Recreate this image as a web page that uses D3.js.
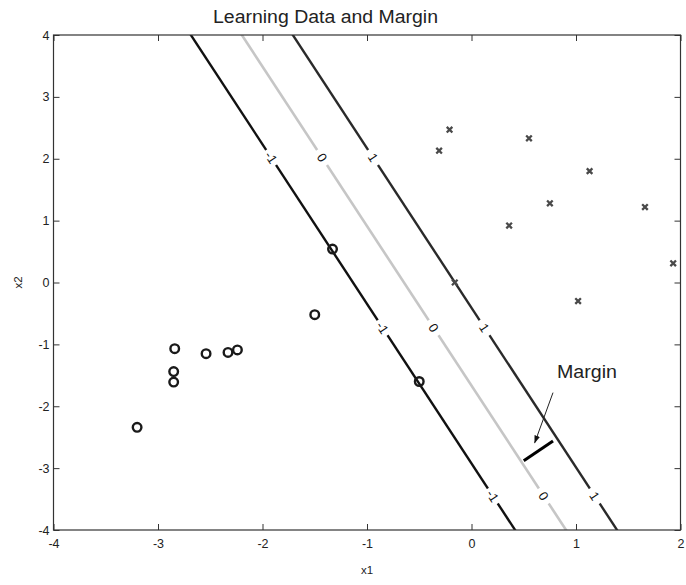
<!DOCTYPE html>
<html>
<head>
<meta charset="utf-8">
<script src="https://cdn.jsdelivr.net/npm/d3@7"></script>
<style>
  body { margin: 0; background: #fff; }
  text { font-family: "Liberation Sans", Arial, sans-serif; fill: #222; }
</style>
</head>
<body>
<svg id="chart" width="686" height="585"></svg>
<script>
// class -1 samples (circles)
const negX1 = [-3.20, -2.84, -2.85, -2.85, -2.54, -2.33, -2.24, -1.50, -1.33, -0.50];
const negX2 = [-2.34, -1.07, -1.44, -1.61, -1.15, -1.13, -1.09, -0.52, 0.54, -1.60];
// class +1 samples (crosses)
const posX1 = [-0.21, -0.31, 0.55, 1.13, 0.75, 0.36, 1.66, 1.93, -0.16, 1.02];
const posX2 = [2.47, 2.13, 2.33, 1.80, 1.28, 0.92, 1.22, 0.31, 0.00, -0.30];

// decision function f = w1*x1 + w2*x2 + b, contour levels
const weights = [2.05, 0.795];
const bias = 1.325;
const levels = [-1, 0, 1];
const levelColors = ["#111", "#c6c6c6", "#2a2a2a"];
const labelX2 = [2.02, -0.73, -3.45];

const xTicks = [-4, -3, -2, -1, 0, 1, 2];
const yTicks = [-4, -3, -2, -1, 0, 1, 2, 3, 4];

const marginSeg = [[0.50, -2.88], [0.78, -2.56]];
const marginArrow = [[0.78, -1.78], [0.605, -2.59]];
const marginText = [0.818, -1.54];

const mLeft = 53.5, mRight = 680.5, mTop = 35, mBottom = 530;
const svg = d3.select("#chart");

const x = d3.scaleLinear().domain([-4, 2]).range([mLeft, mRight]);
const y = d3.scaleLinear().domain([-4, 4]).range([mBottom, mTop]);

const defs = svg.append("defs");
defs.append("clipPath").attr("id", "plot")
    .append("rect").attr("x", mLeft).attr("y", mTop)
    .attr("width", mRight - mLeft).attr("height", mBottom - mTop);

defs.append("marker")
    .attr("id", "arrowhead").attr("viewBox", "0 0 10 10")
    .attr("refX", 9).attr("refY", 5)
    .attr("markerWidth", 8).attr("markerHeight", 8)
    .attr("markerUnits", "userSpaceOnUse")
    .attr("orient", "auto")
    .append("path").attr("d", "M0,1.5 L10,5 L0,8.5 Z").attr("fill", "#111");

// x1 on a contour for a given x2
function x1At(level, x2) {
    return (level - bias - weights[1] * x2) / weights[0];
}

const plot = svg.append("g").attr("clip-path", "url(#plot)");

const angle = Math.atan2(y(0) - y(1), x(x1At(0, 0)) - x(x1At(0, 1))) * 180 / Math.PI;

levels.forEach((lv, i) => {
    plot.append("line")
        .attr("x1", x(x1At(lv, 4.5))).attr("y1", y(4.5))
        .attr("x2", x(x1At(lv, -4.5))).attr("y2", y(-4.5))
        .attr("stroke", levelColors[i])
        .attr("stroke-width", i == 1 ? 2.6 : 2.4);

    labelX2.forEach((v) => {
        const g = plot.append("g")
            .attr("transform", `translate(${x(x1At(lv, v))},${y(v)}) rotate(${angle})`);
        g.append("rect").attr("x", -9).attr("y", -5).attr("width", 18).attr("height", 10).attr("fill", "#fff");
        g.append("text")
            .attr("text-anchor", "middle").attr("dy", "0.36em")
            .style("font-size", "13px").style("fill", "#111")
            .text(String(lv));
    });
});

// circles
plot.selectAll("circle.neg")
    .data(negX1.map((v, i) => [v, negX2[i]]))
    .join("circle")
    .attr("class", "neg")
    .attr("cx", (d) => x(d[0])).attr("cy", (d) => y(d[1]))
    .attr("r", 4.3)
    .attr("fill", "none").attr("stroke", "#1a1a1a").attr("stroke-width", 2.4);

// crosses
const s = 2.8;
plot.selectAll("path.pos")
    .data(posX1.map((v, i) => [v, posX2[i]]))
    .join("path")
    .attr("class", "pos")
    .attr("d", (d) => {
        const cx = x(d[0]), cy = y(d[1]);
        return `M${cx - s},${cy - s}L${cx + s},${cy + s}M${cx - s},${cy + s}L${cx + s},${cy - s}`;
    })
    .attr("stroke", "#4a4a4a").attr("stroke-width", 2.3);

// margin annotation
svg.append("line")
    .attr("x1", x(marginSeg[0][0])).attr("y1", y(marginSeg[0][1]))
    .attr("x2", x(marginSeg[1][0])).attr("y2", y(marginSeg[1][1]))
    .attr("stroke", "#000").attr("stroke-width", 3);

svg.append("line")
    .attr("x1", x(marginArrow[0][0])).attr("y1", y(marginArrow[0][1]))
    .attr("x2", x(marginArrow[1][0])).attr("y2", y(marginArrow[1][1]))
    .attr("stroke", "#222").attr("stroke-width", 1)
    .attr("marker-end", "url(#arrowhead)");

svg.append("text")
    .attr("x", x(marginText[0])).attr("y", y(marginText[1]))
    .attr("textLength", 60).attr("lengthAdjust", "spacingAndGlyphs")
    .style("font-size", "17.5px")
    .text("Margin");

// frame and ticks
const axisColor = "#333";
const fmt = (d) => String(d);
svg.append("g").attr("transform", `translate(0,${mBottom})`)
    .call(d3.axisBottom(x).tickValues(xTicks).tickFormat(fmt).tickSizeInner(-6).tickSizeOuter(0).tickPadding(9))
    .call((g) => g.select(".domain").remove());
svg.append("g").attr("transform", `translate(0,${mTop})`)
    .call(d3.axisTop(x).tickValues(xTicks).tickSizeInner(-6).tickSizeOuter(0).tickFormat(""))
    .call((g) => g.select(".domain").remove());
svg.append("g").attr("transform", `translate(${mLeft},0)`)
    .call(d3.axisLeft(y).tickValues(yTicks).tickFormat(fmt).tickSizeInner(-6).tickSizeOuter(0).tickPadding(4))
    .call((g) => g.select(".domain").remove());
svg.append("g").attr("transform", `translate(${mRight},0)`)
    .call(d3.axisRight(y).tickValues(yTicks).tickSizeInner(-6).tickSizeOuter(0).tickFormat(""))
    .call((g) => g.select(".domain").remove());

svg.selectAll(".tick line").attr("stroke", axisColor);
svg.selectAll(".tick text")
    .style("font-family", "'Liberation Sans', Arial, sans-serif")
    .style("font-size", "12.5px").attr("fill", "#222");

svg.append("rect")
    .attr("x", mLeft).attr("y", mTop)
    .attr("width", mRight - mLeft).attr("height", mBottom - mTop)
    .attr("fill", "none").attr("stroke", axisColor).attr("stroke-width", 1.2);

// titles
svg.append("text")
    .attr("x", 325.5).attr("y", 23)
    .attr("text-anchor", "middle")
    .attr("textLength", 225).attr("lengthAdjust", "spacingAndGlyphs")
    .style("font-size", "17.5px")
    .text("Learning Data and Margin");

svg.append("text")
    .attr("x", (mLeft + mRight) / 2).attr("y", 574)
    .attr("text-anchor", "middle")
    .style("font-size", "11.5px")
    .text("x1");

svg.append("text")
    .attr("transform", `translate(22,${(mTop + mBottom) / 2}) rotate(-90)`)
    .attr("text-anchor", "middle")
    .style("font-size", "11.5px")
    .text("x2");
</script>
</body>
</html>
